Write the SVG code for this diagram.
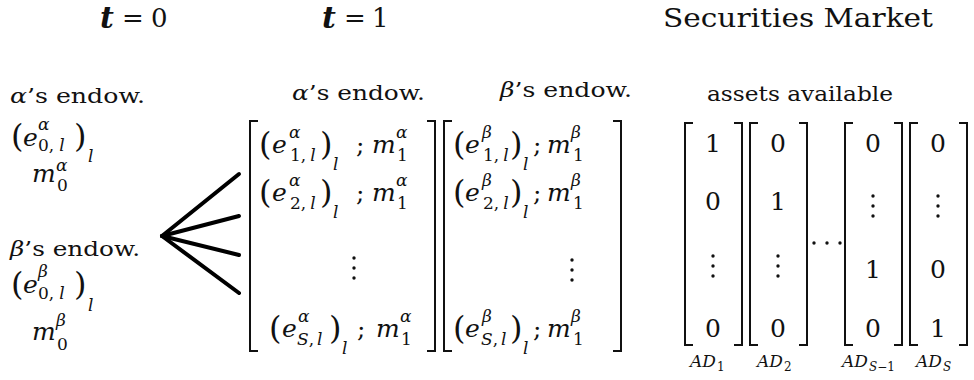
<svg xmlns="http://www.w3.org/2000/svg" width="974" height="380" viewBox="0 0 974 380" font-family="DejaVu Serif, Liberation Serif, serif">
<style>
text{font-family:'DejaVu Serif','Liberation Serif','Noto Serif',serif;fill:#111}
.h{font-size:26px}
.lb{font-size:21px}
.mi{font-size:25px;font-style:italic}
.up{font-size:25px}
.si{font-size:17px;font-style:italic}
.su{font-size:17px}
.pa{font-size:32px;font-weight:200}
.ad{font-size:17px;font-style:italic}
.ads{font-size:12px}
.it{font-style:italic}
.no{font-style:normal}
.br{fill:none;stroke:#111;stroke-width:2}
.fan{stroke:#000;stroke-width:4;stroke-linecap:round}
.c{text-anchor:middle}
</style>
<defs>
<g id="vd"><circle cx="0" cy="-10" r="1.7" fill="#111"/><circle cx="0" cy="0" r="1.7" fill="#111"/><circle cx="0" cy="10" r="1.7" fill="#111"/></g>
</defs>

<g id="titles">
<text x="100" y="28" style="font-size:30px;font-weight:bold;font-style:italic">t</text>
<text x="122" y="27" class="h">=</text>
<text x="151" y="27" class="h">0</text>
<text x="322" y="28" style="font-size:30px;font-weight:bold;font-style:italic">t</text>
<text x="344" y="27" class="h">=</text>
<text x="372" y="27" class="h">1</text>
<text x="663" y="27" class="h" textLength="270" lengthAdjust="spacingAndGlyphs">Securities Market</text>
</g>

<g id="t0-alpha">
<text x="10" y="103" class="lb" textLength="135" lengthAdjust="spacingAndGlyphs"><tspan class="it">α</tspan>’s endow.</text>
<text x="11" y="147" class="pa">(</text>
<text x="23" y="146" class="mi">e</text>
<text x="38" y="130" class="si">α</text>
<text x="38" y="151" class="su">0,<tspan class="it" dx="5">l</tspan></text>
<text x="74" y="147" class="pa">)</text>
<text x="88" y="162" class="si">l</text>
<text x="32" y="182" class="mi">m</text>
<text x="56" y="171" class="si">α</text>
<text x="57" y="191" class="su">0</text>
</g>

<g id="t0-beta">
<text x="10" y="256" class="lb" textLength="130" lengthAdjust="spacingAndGlyphs"><tspan class="it">β</tspan>’s endow.</text>
<text x="11" y="295" class="pa">(</text>
<text x="23" y="293" class="mi">e</text>
<text x="38" y="277" class="si">β</text>
<text x="38" y="299" class="su">0,<tspan class="it" dx="5">l</tspan></text>
<text x="74" y="295" class="pa">)</text>
<text x="88" y="311" class="si">l</text>
<text x="32" y="340" class="mi">m</text>
<text x="56" y="326" class="si">β</text>
<text x="57" y="350" class="su">0</text>
</g>

<g id="connectors">
<line class="fan" x1="162" y1="236" x2="239" y2="174"/>
<line class="fan" x1="162" y1="236" x2="239" y2="216"/>
<line class="fan" x1="162" y1="236" x2="239" y2="255"/>
<line class="fan" x1="162" y1="236" x2="239" y2="293"/>
</g>

<g id="t1-alpha">
<text x="292" y="100" class="lb" textLength="133" lengthAdjust="spacingAndGlyphs"><tspan class="it">α</tspan>’s endow.</text>
<path class="br" d="M258,121 H250 V351 H258 M427,121 H435 V351 H427"/>
<text x="259" y="155" class="pa">(</text>
<text x="272" y="153" class="mi">e</text>
<text x="289" y="138" class="si">α</text>
<text x="290" y="161" class="su">1,<tspan class="it" dx="4">l</tspan></text>
<text x="320" y="155" class="pa">)</text>
<text x="333" y="170" class="si">l</text>
<text x="356" y="153" class="up">;</text>
<text x="372" y="153" class="mi">m</text>
<text x="396" y="138" class="si">α</text>
<text x="397" y="161" class="su">1</text>

<text x="259" y="203" class="pa">(</text>
<text x="272" y="201" class="mi">e</text>
<text x="289" y="186" class="si">α</text>
<text x="290" y="209" class="su">2,<tspan class="it" dx="4">l</tspan></text>
<text x="320" y="203" class="pa">)</text>
<text x="333" y="218" class="si">l</text>
<text x="356" y="201" class="up">;</text>
<text x="372" y="201" class="mi">m</text>
<text x="396" y="186" class="si">α</text>
<text x="397" y="209" class="su">1</text>

<use href="#vd" x="354" y="268"/>

<text x="269" y="339" class="pa">(</text>
<text x="282" y="337" class="mi">e</text>
<text x="298" y="322" class="si">α</text>
<text x="297" y="345" class="si">S<tspan class="no">,</tspan><tspan dx="3">l</tspan></text>
<text x="329" y="339" class="pa">)</text>
<text x="342" y="354" class="si">l</text>
<text x="357" y="337" class="up">;</text>
<text x="376" y="337" class="mi">m</text>
<text x="400" y="322" class="si">α</text>
<text x="401" y="345" class="su">1</text>
</g>

<g id="t1-beta">
<text x="500" y="97" class="lb" textLength="132" lengthAdjust="spacingAndGlyphs"><tspan class="it">β</tspan>’s endow.</text>
<path class="br" d="M452,121 H444 V351 H452 M613,121 H621 V351 H613"/>
<text x="453" y="155" class="pa">(</text>
<text x="465" y="153" class="mi">e</text>
<text x="482" y="138" class="si">β</text>
<text x="483" y="161" class="su">1,<tspan class="it" dx="4">l</tspan></text>
<text x="510" y="155" class="pa">)</text>
<text x="523" y="170" class="si">l</text>
<text x="533" y="153" class="up">;</text>
<text x="547" y="153" class="mi">m</text>
<text x="571" y="138" class="si">β</text>
<text x="573" y="161" class="su">1</text>

<text x="453" y="203" class="pa">(</text>
<text x="465" y="201" class="mi">e</text>
<text x="482" y="186" class="si">β</text>
<text x="483" y="209" class="su">2,<tspan class="it" dx="4">l</tspan></text>
<text x="510" y="203" class="pa">)</text>
<text x="523" y="218" class="si">l</text>
<text x="533" y="201" class="up">;</text>
<text x="547" y="201" class="mi">m</text>
<text x="571" y="186" class="si">β</text>
<text x="573" y="209" class="su">1</text>

<use href="#vd" x="572" y="270"/>

<text x="453" y="339" class="pa">(</text>
<text x="465" y="337" class="mi">e</text>
<text x="482" y="322" class="si">β</text>
<text x="481" y="345" class="si">S<tspan class="no">,</tspan><tspan dx="3">l</tspan></text>
<text x="510" y="339" class="pa">)</text>
<text x="523" y="354" class="si">l</text>
<text x="533" y="337" class="up">;</text>
<text x="547" y="337" class="mi">m</text>
<text x="571" y="322" class="si">β</text>
<text x="573" y="345" class="su">1</text>
</g>

<g id="market">
<text x="707" y="101" class="lb" textLength="186" lengthAdjust="spacingAndGlyphs">assets available</text>
</g>

<g id="AD1">
<path class="br" d="M693,123 H685 V345 H693 M734,123 H742 V345 H734"/>
<text x="713" y="152" class="up c">1</text>
<text x="713" y="210" class="up c">0</text>
<use href="#vd" x="713" y="266"/>
<text x="713" y="337" class="up c">0</text>
<text x="690" y="367" class="ad">AD</text><text x="717" y="371" class="ads">1</text>
</g>

<g id="AD2">
<path class="br" d="M758,123 H750 V345 H758 M799,123 H807 V345 H799"/>
<text x="778" y="152" class="up c">0</text>
<text x="778" y="210" class="up c">1</text>
<use href="#vd" x="778" y="266"/>
<text x="778" y="337" class="up c">0</text>
<text x="757" y="367" class="ad">AD</text><text x="784" y="371" class="ads">2</text>
</g>

<g id="hdots">
<circle cx="814" cy="243" r="1.7" fill="#111"/>
<circle cx="827" cy="243" r="1.7" fill="#111"/>
<circle cx="840" cy="243" r="1.7" fill="#111"/>
</g>

<g id="ADS-1">
<path class="br" d="M853,123 H845 V345 H853 M894,123 H902 V345 H894"/>
<text x="873" y="152" class="up c">0</text>
<use href="#vd" x="873" y="206"/>
<text x="873" y="278" class="up c">1</text>
<text x="873" y="337" class="up c">0</text>
<text x="842" y="367" class="ad">AD</text><text x="869" y="371" class="ads"><tspan class="it">S</tspan>−1</text>
</g>

<g id="ADS">
<path class="br" d="M918,123 H910 V345 H918 M959,123 H967 V345 H959"/>
<text x="938" y="152" class="up c">0</text>
<use href="#vd" x="938" y="206"/>
<text x="938" y="278" class="up c">0</text>
<text x="938" y="337" class="up c">1</text>
<text x="916" y="367" class="ad">AD</text><text x="943" y="371" class="ads it">S</text>
</g>
</svg>
